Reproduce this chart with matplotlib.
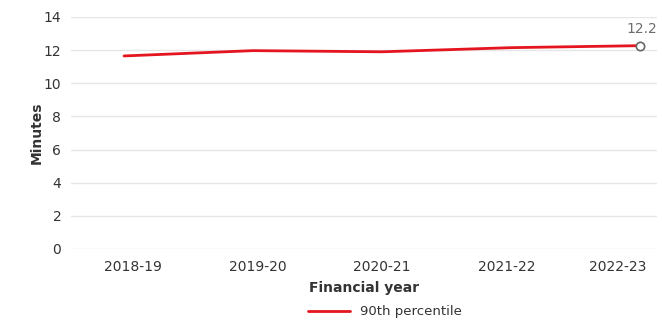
import matplotlib
matplotlib.use("Agg")
import matplotlib.pyplot as plt
import numpy as np

years = ["2018-19", "2019-20", "2020-21", "2021-22", "2022-23"]
p90 = [11.65, 11.97, 11.9, 12.15, 12.27]
last_label = "12.2"

plt.rcParams['font.family'] = ['DejaVu Sans']

fig = plt.figure(figsize=(6.62, 3.23), dpi=100)
ax = fig.add_axes([71/662, 1 - 249/323, 586/662, 232/323])

x = np.arange(len(years))
line, = ax.plot(x, p90, color='#e4151f', lw=2, label='90th percentile', solid_capstyle='round')
ax.plot(x[-1], p90[-1], marker='o', ms=6, mfc='white', mec='#666666', mew=1.2, ls='none')
ax.annotate(last_label, (x[-1], p90[-1]), xytext=(1, 7), textcoords='offset points',
            ha='center', va='bottom', fontsize=10, color='#6d6d6d')

ax.set_ylim(0, 14)
ax.set_yticks(range(0, 15, 2))
ax.set_xlim(-0.411, 4.132)
# labels sit on their own band; the last one is pulled in from the edge
ax.set_xticks([0.07, 1.035, 2.0, 2.97, 3.83])
ax.set_xticklabels(years)
ax.grid(axis='y', color='#e6e6e6', lw=1)
ax.set_axisbelow(True)
for s in ax.spines.values():
    s.set_visible(False)
ax.tick_params(length=0, labelsize=10, colors='#333333', pad=8)
ax.tick_params(axis='y', pad=7)

ax.set_ylabel('Minutes', fontsize=10, fontweight='bold', color='#333333', labelpad=0)
ax.set_xlabel('Financial year', fontsize=10, fontweight='bold', color='#333333', labelpad=5)

fig.legend(handles=[line], loc='center', bbox_to_anchor=(385/662, 1 - 312/323), frameon=False,
           fontsize=9.5, handlelength=3.2, labelcolor='#333333', borderpad=0)

fig.savefig('out.png', dpi=100)
